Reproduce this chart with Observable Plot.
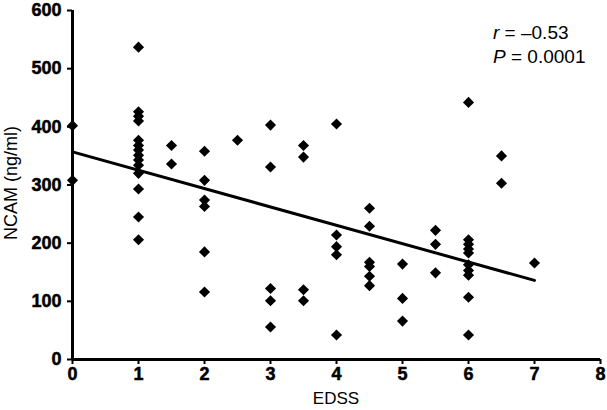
<!DOCTYPE html>
<html>
<head>
<meta charset="utf-8">
<script src="https://cdn.jsdelivr.net/npm/d3@7"></script>
<script src="https://cdn.jsdelivr.net/npm/@observablehq/plot@0.6"></script>
<style>
  html, body { margin: 0; padding: 0; background: #fff; }
  #chart svg { display: block; }
</style>
</head>
<body>
<div id="chart"></div>
<script>
// EDSS score (x) and NCAM concentration (ng/ml, y) per patient
const edss = [
  0, 0,
  1, 1, 1, 1, 1, 1, 1, 1, 1, 1, 1, 1, 1, 1,
  1.5, 1.5,
  2, 2, 2, 2, 2, 2,
  2.5,
  3, 3, 3, 3, 3,
  3.5, 3.5, 3.5, 3.5,
  4, 4, 4, 4, 4,
  4.5, 4.5, 4.5, 4.5, 4.5, 4.5,
  5, 5, 5,
  5.5, 5.5, 5.5,
  6, 6, 6, 6, 6, 6, 6, 6, 6, 6,
  6.5, 6.5,
  7
];
const ncam = [
  402, 308,
  537, 426, 418, 410, 377, 368, 360, 351, 343, 334, 320, 293, 245, 206,
  368, 336,
  358, 308, 274, 263, 185, 116,
  377,
  403, 331, 122, 101, 56,
  368, 348, 120, 101,
  405, 214, 194, 180, 42,
  260, 229, 167, 160, 143, 127,
  164, 105, 66,
  222, 198, 149,
  442, 206, 198, 190, 183, 163, 153, 145, 107, 42,
  350, 303,
  166
];
// regression line endpoints
const fitX = [0, 7];
const fitY = [357, 136];
const xTicks = [0, 1, 2, 3, 4, 5, 6, 7, 8];
const yTicks = [0, 100, 200, 300, 400, 500, 600];
const statR = "–0.53";
const statP = "0.0001";

const points = edss.map((x, i) => ({x, y: ncam[i]}));
const fit = fitX.map((x, i) => ({x, y: fitY[i]}));

const font = "'Liberation Sans', Arial, sans-serif";

const chart = Plot.plot({
  width: 607,
  height: 410,
  marginLeft: 72,
  marginRight: 7,
  marginTop: 10,
  marginBottom: 51,
  style: {fontFamily: font, background: "#fff", color: "#000"},
  x: {domain: [0, 8]},
  y: {domain: [0, 600]},
  marks: [
    Plot.axisX({ticks: xTicks, tickSize: 5, tickPadding: 3, fontSize: 18, fontWeight: "bold",
      strokeWidth: 2, label: null}),
    Plot.axisY({ticks: yTicks, tickSize: 5, tickPadding: 6, fontSize: 18, fontWeight: "bold",
      strokeWidth: 2, label: null}),
    Plot.ruleY([0], {stroke: "#000", strokeWidth: 3}),
    Plot.ruleX([0], {stroke: "#000", strokeWidth: 3}),
    Plot.line(fit, {x: "x", y: "y", stroke: "#000", strokeWidth: 3}),
    Plot.dot(points, {x: "x", y: "y", symbol: "diamond2", r: 5, fill: "#000", stroke: "none"})
  ]
});

const svg = d3.select(chart);
svg.selectAll("g[aria-label$='tick label'] text")
  .style("font-weight", "bold").style("font-size", "18px").style("font-family", font)
  .style("stroke", "#000").style("stroke-width", "0.5px").style("paint-order", "normal");
// axis titles
svg.append("text")
  .attr("x", 336).attr("y", 404)
  .attr("text-anchor", "middle")
  .style("font-family", font).style("font-size", "17px")
  .text("EDSS");
svg.append("text")
  .attr("transform", "translate(17,183) rotate(-90)")
  .attr("text-anchor", "middle")
  .style("font-family", font).style("font-size", "18px")
  .text("NCAM (ng/ml)");
// statistics annotation
const t1 = svg.append("text").attr("x", 493).attr("y", 39)
  .attr("text-anchor", "start")
  .style("font-family", font).style("font-size", "19px");
t1.append("tspan").style("font-style", "italic").text("r");
t1.append("tspan").text(" = " + statR);
const t2 = svg.append("text").attr("x", 493).attr("y", 63)
  .attr("text-anchor", "start")
  .style("font-family", font).style("font-size", "19px");
t2.append("tspan").style("font-style", "italic").text("P");
t2.append("tspan").text(" = " + statP);

document.getElementById("chart").appendChild(chart);
</script>
</body>
</html>
